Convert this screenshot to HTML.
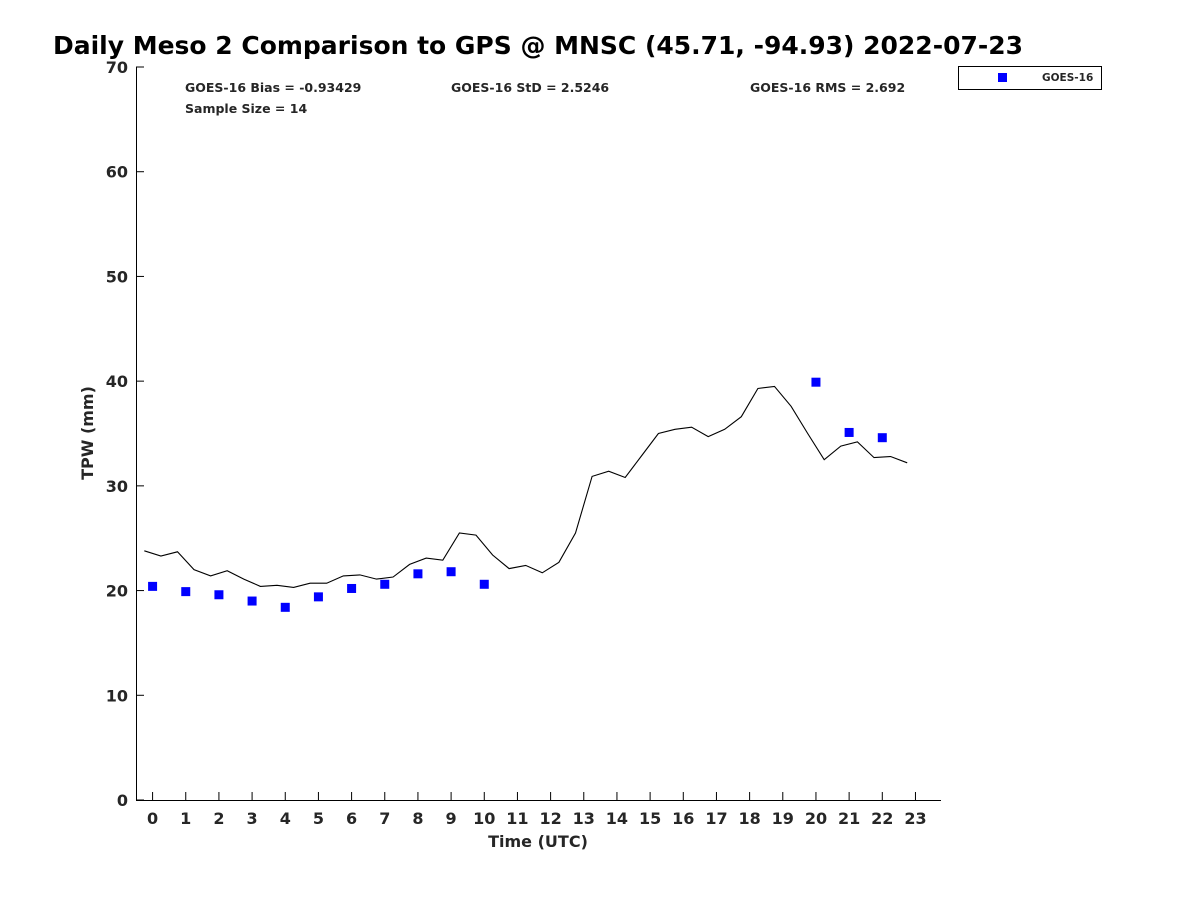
<!DOCTYPE html>
<html><head><meta charset="utf-8"><style>
body{margin:0;background:#fff}
svg text{font-family:"DejaVu Sans","Liberation Sans",sans-serif;font-weight:bold}
</style></head><body>
<svg id="chart" width="1200" height="900" xmlns="http://www.w3.org/2000/svg">
<text x="53" y="54" font-size="25" textLength="970" lengthAdjust="spacingAndGlyphs">Daily Meso 2 Comparison to GPS @ MNSC (45.71, -94.93) 2022-07-23</text>
<g font-size="12.5" fill="#262626">
<text x="185" y="92">GOES-16 Bias = -0.93429</text>
<text x="451" y="92">GOES-16 StD = 2.5246</text>
<text x="750" y="92">GOES-16 RMS = 2.692</text>
<text x="185" y="113">Sample Size = 14</text>
</g>
<g>
<rect x="958.5" y="66.5" width="143" height="23" fill="#fff" stroke="#000" stroke-width="1"/>
<rect x="998" y="73" width="9" height="9" fill="#0000ff"/>
<text x="1042" y="81" font-size="10.5" fill="#262626">GOES-16</text>
</g>
<g id="axes" fill="#262626"></g>
<g id="marks"></g>
<text x="538" y="847" font-size="16" text-anchor="middle" fill="#262626">Time (UTC)</text>
<text transform="translate(93,433) rotate(-90)" font-size="16" text-anchor="middle" fill="#262626">TPW (mm)</text>
</svg>
<script>
const xTicks=[0,1,2,3,4,5,6,7,8,9,10,11,12,13,14,15,16,17,18,19,20,21,22,23];
const yTicks=[0,10,20,30,40,50,60,70];
const gpsStart=-0.25, gpsStep=0.5;
const gpsValues=[23.8,23.3,23.7,22.0,21.4,21.9,21.1,20.4,20.5,20.3,20.7,20.7,21.4,21.5,21.1,21.3,22.5,23.1,22.9,25.5,25.3,23.4,22.1,22.4,21.7,
22.7,25.5,30.9,31.4,30.8,32.9,35.0,35.4,35.6,34.7,35.4,36.6,39.3,39.5,37.6,35.0,32.5,33.8,34.2,32.7,32.8,32.2];
const goesHours=[0,1,2,3,4,5,6,7,8,9,10,20,21,22];
const goesValues=[20.4,19.9,19.6,19.0,18.4,19.4,20.2,20.6,21.6,21.8,20.6,39.9,35.1,34.6];
const L=136,R=941,T=67,B=800, xmin=-0.5, xmax=23.77, ymin=0, ymax=70;
const X=v=>L+(v-xmin)/(xmax-xmin)*(R-L);
const Y=v=>B-(v-ymin)/(ymax-ymin)*(B-T);
const NS='http://www.w3.org/2000/svg';
function mk(t,a,p){const e=document.createElementNS(NS,t);for(const k in a)e.setAttribute(k,a[k]);p.appendChild(e);return e;}
const ax=document.getElementById('axes'), mg=document.getElementById('marks');
const yl=mk('line',{x1:L+0.5,y1:T,x2:L+0.5,y2:B,stroke:'#000'},ax);


const xl=mk('line',{x1:L,y1:B+0.5,x2:R,y2:B+0.5,stroke:'#000'},ax);


xTicks.forEach(v=>{const x=X(v);
 mk('line',{x1:x,y1:B,x2:x,y2:B-8,stroke:'#000'},ax);
 const t=mk('text',{x:x,y:B+24,'font-size':16,'text-anchor':'middle'},ax);t.textContent=v;
 
 });
yTicks.forEach(v=>{const y=Y(v);
 mk('line',{x1:L,y1:y,x2:L+8,y2:y,stroke:'#000'},ax);
 const t=mk('text',{x:L-8,y:y+6,'font-size':16,'text-anchor':'end'},ax);t.textContent=v;
 
 });
const pts=gpsValues.map((v,i)=>X(gpsStart+i*gpsStep).toFixed(1)+','+Y(v).toFixed(1)).join(' ');
const pl=mk('polyline',{points:pts,fill:'none',stroke:'#000','stroke-width':1.1},mg);


goesHours.forEach((h,i)=>{const r=mk('rect',{x:X(h)-4.5,y:Y(goesValues[i])-4.5,width:9,height:9,fill:'#0000ff'},mg);
 
 });
</script>
</body></html>
